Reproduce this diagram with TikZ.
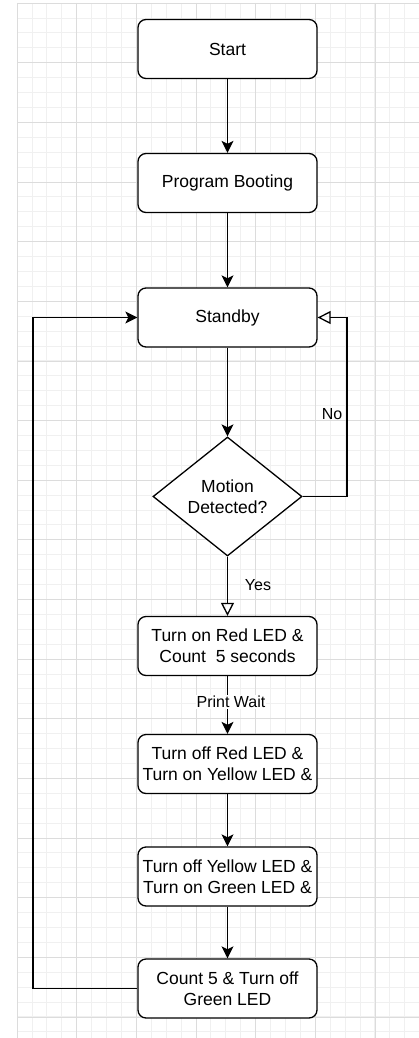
\documentclass[tikz,border=0pt]{standalone}
\usepackage{fontspec}
\setmainfont{Liberation Sans}
\usetikzlibrary{shapes.geometric,arrows.meta}

\definecolor{minorgray}{HTML}{F0F0F0}
\definecolor{majorgray}{HTML}{DCDCDC}

\tikzset{
  proc/.style={draw, line width=1.3pt, rounded corners=8pt, minimum width=179pt,
    minimum height=59pt, inner sep=0pt, align=center, font=\fontsize{17.5}{21}\selectfont},
  decide/.style={draw, diamond, line width=1.3pt, minimum width=149pt, minimum height=119pt,
    inner sep=0pt, align=center, font=\fontsize{17.5}{21}\selectfont},
  flow/.style={line width=1.3pt, -{Stealth[length=12pt,width=12pt,inset=3pt]}},
  openflow/.style={line width=1.3pt, -{Triangle[open,length=13pt,width=13pt]}},
  lbl/.style={inner sep=1pt, font=\fontsize{16}{19}\selectfont}
}

\begin{document}
\begin{tikzpicture}[x=1pt,y=-1pt]
\useasboundingbox (0,0) rectangle (419,1038);

% background grid
\foreach \i in {0,...,27} \draw[minorgray, line width=0.8pt] ({17+14.91*\i},3) -- ({17+14.91*\i},1038);
\foreach \j in {0,...,69} \draw[minorgray, line width=0.8pt] (17,{3+14.91*\j}) -- (419,{3+14.91*\j});
\foreach \i in {0,...,6} \draw[majorgray, line width=0.8pt] ({17+59.65*\i},3) -- ({17+59.65*\i},1038);
\foreach \j in {0,...,17} \draw[majorgray, line width=0.8pt] (17,{3+59.65*\j}) -- (419,{3+59.65*\j});

% boxes
\node[proc, fill=white] (start) at (227.5,49) {Start};
\node[proc, fill=white] (boot) at (227.5,183) {Program Booting};
\node[proc, fill=white] (standby) at (227.5,317.5) {Standby};
\node[decide, fill=white] (motion) at (227.5,496.5) {Motion\\Detected?};
\node[proc, fill=white] (redon) at (227.5,646) {Turn on Red LED \&\\Count\ \ 5 seconds};
\node[proc, fill=white] (yellowon) at (227.5,764) {Turn off Red LED \&\\Turn on Yellow LED \&};
\node[proc, fill=white] (greenon) at (227.5,876.5) {Turn off Yellow LED \&\\Turn on Green LED \&};
\node[proc, fill=white] (greenoff) at (227.5,988.5) {Count 5 \& Turn off\\Green LED};

% connectors
\draw[flow] (start) -- (boot);
\draw[flow] (boot) -- (standby);
\draw[flow] (standby) -- (motion);
\draw[openflow] (motion) -- (redon);
\draw[flow] (redon) -- (yellowon);
\draw[flow] (yellowon) -- (greenon);
\draw[flow] (greenon) -- (greenoff);

\coordinate (nocorner) at (347,317.5);
\draw[openflow] (motion.east) -| (nocorner) -- (standby.east);
\coordinate (loopcorner) at (33,988.5);
\draw[flow] (greenoff.west) -- (loopcorner) |- (standby.west);

% edge labels
\node[lbl] (nolbl) at (332,414) {No};
\node[lbl] (yeslbl) at (258,585) {Yes};
\node[lbl, fill=white] (waitlbl) at (231,702) {Print Wait};
\end{tikzpicture}
\end{document}
